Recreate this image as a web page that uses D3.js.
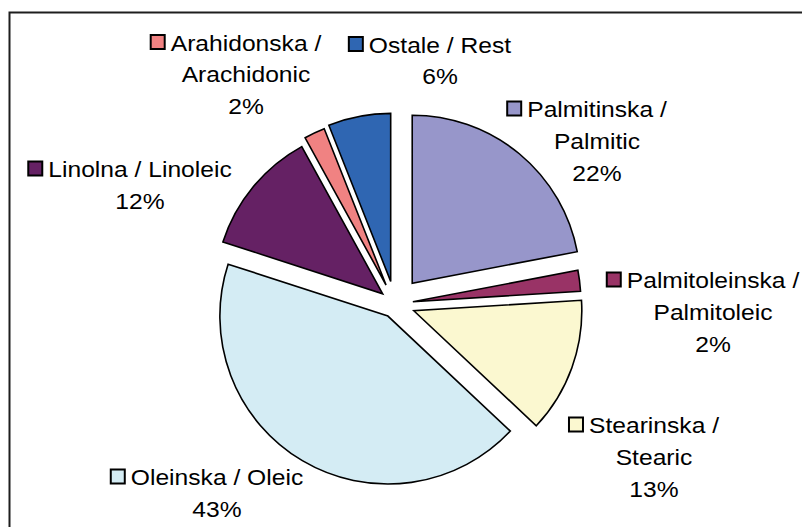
<!DOCTYPE html>
<html>
<head>
<meta charset="utf-8">
<script src="https://cdn.jsdelivr.net/npm/d3@7"></script>
<style>
  body { margin: 0; background: #fff; }
  svg { display: block; }
  text { font-family: "Liberation Sans", Arial, sans-serif; font-size: 22px; fill: #000; }
</style>
</head>
<body>
<script>
// data, clockwise from 12 o'clock
const categories = ['Palmitinska / Palmitic', 'Palmitoleinska / Palmitoleic', 'Stearinska / Stearic',
  'Oleinska / Oleic', 'Linolna / Linoleic', 'Arahidonska / Arachidonic', 'Ostale / Rest']
const values = [22, 2, 13, 43, 12, 2, 6]
const percentLabels = ['22%', '2%', '13%', '43%', '12%', '2%', '6%']

// styling / layout
const colors = ['#9796ca', '#993366', '#fbf8d0', '#d4ecf4', '#652164', '#f08282', '#2f66b2']
const explode = [27, 18, 20, 14, 16, 21, 23]
const wrap = [true, true, true, false, false, true, false]
const labelAt = [[597, 117], [713, 288], [654, 433], [217, 485], [140, 177], [246, 50.5], [440, 52.5]]

const width = 802, height = 527
const cx = 395, cy = 304, radius = 168
const stretch = 1.12, lineH = 32

const svg = d3.select('body').append('svg')
  .attr('width', width)
  .attr('height', height)

// chart frame (right and bottom edges run off the picture)
svg.append('rect')
  .attr('x', 9.5).attr('y', 12.5)
  .attr('width', 900).attr('height', 600)
  .attr('fill', 'none')
  .attr('stroke', '#1e1e1e')
  .attr('stroke-width', 2)

const pie = d3.pie().sort(null).value(d => d)
const arcs = pie(values)
const arc = d3.arc().innerRadius(0).outerRadius(radius)

svg.append('g')
  .attr('transform', `translate(${cx},${cy})`)
  .selectAll('path')
  .data(arcs)
  .enter()
  .append('path')
  .attr('transform', (d, i) => {
    const mid = (d.startAngle + d.endAngle) / 2
    return `translate(${explode[i] * Math.sin(mid)},${-explode[i] * Math.cos(mid)})`
  })
  .attr('d', arc)
  .attr('fill', (d, i) => colors[i])
  .attr('stroke', '#000')
  .attr('stroke-width', 1.6)
  .attr('stroke-linejoin', 'miter')

// data labels with legend key
const labels = svg.append('g')
  .selectAll('g')
  .data(categories)
  .enter()
  .append('g')
  .attr('transform', (d, i) => `translate(${labelAt[i][0]},${labelAt[i][1]})`)

labels.each(function (name, i) {
  const g = d3.select(this)
  let lines
  if (wrap[i]) {
    const cut = name.indexOf('/ ') + 1
    lines = [name.slice(0, cut), name.slice(cut + 1)]
  } else {
    lines = [name]
  }
  lines.push(percentLabels[i])

  const t = g.append('text')
    .attr('text-anchor', 'middle')
    .attr('transform', `scale(${stretch},1)`)
  t.selectAll('tspan')
    .data(lines)
    .enter()
    .append('tspan')
    .attr('x', 0)
    .attr('y', (l, j) => j * lineH)
    .text(l => l)

  const w = t.select('tspan').node().getComputedTextLength() * stretch
  g.append('rect')
    .attr('x', -w / 2 - 20)
    .attr('y', -15.5)
    .attr('width', 14)
    .attr('height', 14)
    .attr('fill', colors[i])
    .attr('stroke', '#000')
    .attr('stroke-width', 2)
})
</script>
</body>
</html>
